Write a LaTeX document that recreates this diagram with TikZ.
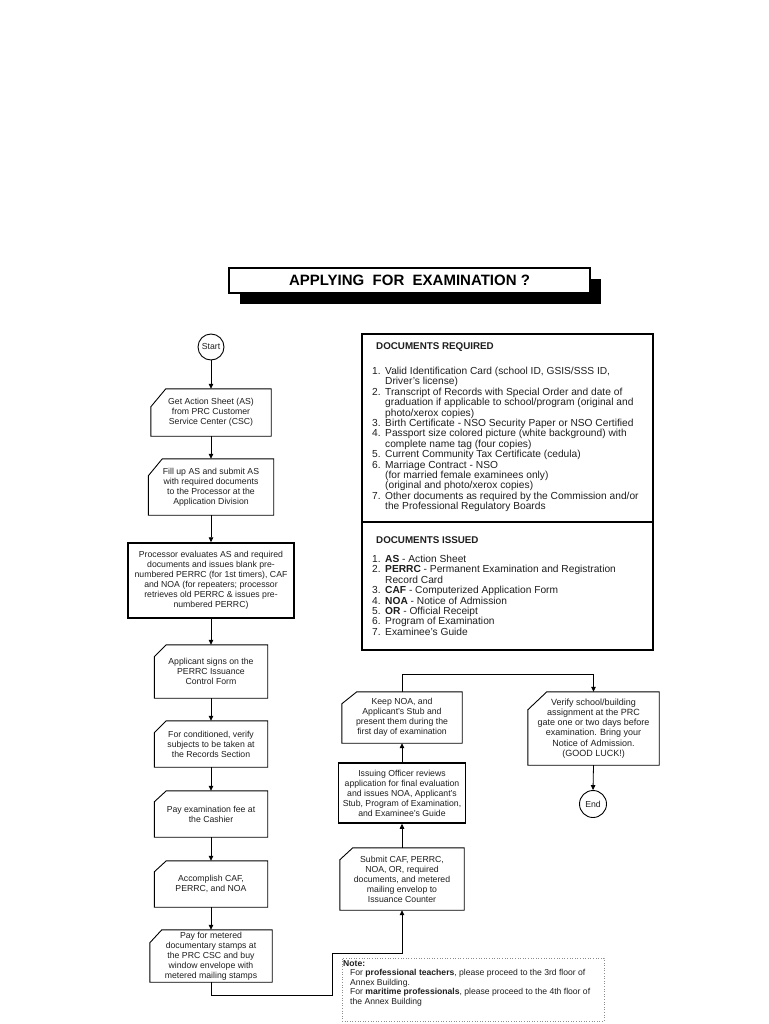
\documentclass[tikz,border=0pt]{standalone}
\usepackage{fontspec}
\setmainfont{Liberation Sans}
\usetikzlibrary{arrows.meta}
\newcommand\flowfont{\fontsize{8.7}{10}\selectfont}
\newcommand\docfont{\fontsize{10.2}{10}\selectfont}
\newcommand\dochead{\fontsize{9.8}{10}\bfseries\selectfont}
\newcommand\notefont{\fontsize{8.6}{9.6}\selectfont}
\newcommand\chamferbox[3]{\draw[boxline] ([xshift=#2pt]#1.north west) -- (#1.north east) -- (#1.south east) -- (#1.south west) -- ([yshift=-#3pt]#1.north west) -- cycle;}
\begin{document}
\begin{tikzpicture}[x=1pt,y=-1pt,
  flowbox/.style={inner sep=0pt, align=center, font=\flowfont, text=black!88},
  boxline/.style={draw=black, line width=0.9pt},
  thickbox/.style={draw=black, line width=1.5pt, inner sep=0pt, align=center, font=\flowfont, text=black!88},
  conn/.style={draw=black, line width=0.8pt, -{Triangle[width=4.5pt,length=5pt]}},
  termnode/.style={circle, draw=black, line width=0.9pt, minimum size=26pt, inner sep=0pt, font=\flowfont, text=black!88},
  docbox/.style={draw=black, line width=1.1pt, inner sep=0pt, minimum width=291pt},
]
\fill[white] (0,0) rectangle (768,1024);
\useasboundingbox (0,0) rectangle (768,1024);

% title with shadow
\fill[black] (240,279) rectangle (601,304);
\node[draw=black, fill=white, line width=1.5pt, inner sep=0pt, minimum width=361pt, minimum height=25pt,
      font=\fontsize{15}{18}\bfseries\selectfont] (title) at (409.5,280.5) {APPLYING\ \ FOR\ \ EXAMINATION ?};

% left column
\node[termnode] (start) at (211,347) {Start};
\node[flowbox, minimum width=120pt, minimum height=47pt] (b1) at (211,412.5) {Get Action Sheet (AS)\\from PRC Customer\\Service Center (CSC)};
\node[flowbox, minimum width=125pt, minimum height=56pt] (b2) at (211,487) {Fill up AS and submit AS\\with required documents\\to the Processor at the\\Application Division};
\node[thickbox, minimum width=166pt, minimum height=75pt] (b3) at (211,580.5) {Processor evaluates AS and required\\documents and issues blank pre-\\numbered PERRC (for 1st timers), CAF\\and NOA (for repeaters; processor\\retrieves old PERRC \& issues pre-\\numbered PERRC)};
\node[flowbox, minimum width=113pt, minimum height=53pt] (b4) at (211,671.5) {Applicant signs on the\\PERRC Issuance\\Control Form};
\node[flowbox, minimum width=113pt, minimum height=46pt] (b5) at (211,744) {For conditioned, verify\\subjects to be taken at\\the Records Section};
\node[flowbox, minimum width=113pt, minimum height=46pt] (b6) at (211,814) {Pay examination fee at\\the Cashier};
\node[flowbox, minimum width=113pt, minimum height=46pt] (b7) at (211,884) {Accomplish CAF,\\PERRC, and NOA};
\node[flowbox, minimum width=122pt, minimum height=52pt] (b8) at (211,956) {Pay for metered\\documentary stamps at\\the PRC CSC and buy\\window envelope with\\metered mailing stamps};

% right flow column
\node[flowbox, minimum width=124pt, minimum height=62pt] (b9) at (402,879) {Submit CAF, PERRC,\\NOA, OR, required\\documents, and metered\\mailing envelop to\\Issuance Counter};
\node[thickbox, minimum width=127pt, minimum height=60pt] (b10) at (402,793) {Issuing Officer reviews\\application for final evaluation\\and issues NOA, Applicant's\\Stub, Program of Examination,\\and Examinee's Guide};
\node[flowbox, minimum width=120pt, minimum height=51pt] (b11) at (402,717.5) {Keep NOA, and\\Applicant's Stub and\\present them during the\\first day of examination};
\node[flowbox, minimum width=131pt, minimum height=73pt, font=\fontsize{9}{10.2}\selectfont] (b12) at (593.5,728.5) {Verify school/building\\assignment at the PRC\\gate one or two days before\\examination. Bring your\\Notice of Admission.\\(GOOD LUCK!)};
\node[termnode, minimum size=27pt] (endn) at (593,804) {End};

% chamfered outlines
\chamferbox{b1}{15}{18}
\chamferbox{b2}{14}{17}
\chamferbox{b4}{12}{12}
\chamferbox{b5}{12}{12}
\chamferbox{b6}{12}{11}
\chamferbox{b7}{12}{11}
\chamferbox{b8}{12}{13}
\chamferbox{b9}{13}{12}
\chamferbox{b11}{15}{12}
\chamferbox{b12}{19}{18}

% documents boxes
\node[docbox, minimum height=188pt] (docreq) at (507.5,428) {};
\node[docbox, minimum height=128pt] (dociss) at (507.5,586) {};
\node[anchor=base west, inner sep=0pt, font=\dochead, text=black!88] (reqhead) at (376,349.5) {DOCUMENTS REQUIRED};
\node[anchor=north west, inner sep=0pt, font=\docfont, text=black!88] (reqlist) at (372,367) {%
\begin{tabular}{@{}p{13pt}@{}l@{}}
1. & Valid Identification Card (school ID, GSIS/SSS ID,\\
   & Driver's license)\\
2. & Transcript of Records with Special Order and date of\\
   & graduation if applicable to school/program (original and\\
   & photo/xerox copies)\\
3. & Birth Certificate - NSO Security Paper or NSO Certified\\
4. & Passport size colored picture (white background) with\\
   & complete name tag (four copies)\\
5. & Current Community Tax Certificate (cedula)\\
6. & Marriage Contract - NSO\\
   & (for married female examinees only)\\
   & (original and photo/xerox copies)\\
7. & Other documents as required by the Commission and/or\\
   & the Professional Regulatory Boards
\end{tabular}};
\node[anchor=base west, inner sep=0pt, font=\dochead, text=black!88] (isshead) at (376,543.5) {DOCUMENTS ISSUED};
\node[anchor=north west, inner sep=0pt, font=\docfont, text=black!88] (isslist) at (372,555) {%
\begin{tabular}{@{}p{13pt}@{}l@{}}
1. & \textbf{AS} - Action Sheet\\
2. & \textbf{PERRC} - Permanent Examination and Registration\\
   & Record Card\\
3. & \textbf{CAF} - Computerized Application Form\\
4. & \textbf{NOA} - Notice of Admission\\
5. & \textbf{OR} - Official Receipt\\
6. & Program of Examination\\
7. & Examinee's Guide
\end{tabular}};

% note
\node[draw=black!45, dotted, line width=0.6pt, inner sep=0pt, minimum width=262pt, minimum height=63pt] (note) at (473,989.5) {};
\node[anchor=north west, inner sep=0pt, align=left, font=\notefont, text=black!88] (notetext) at (343,960) {%
\textbf{Note:}\\
\hspace*{7pt}For \textbf{professional teachers}, please proceed to the 3rd floor of\\
\hspace*{7pt}Annex Building.\\
\hspace*{7pt}For \textbf{maritime professionals}, please proceed to the 4th floor of\\
\hspace*{7pt}the Annex Building};

% connectors left column
\draw[conn] (start.south) -- (b1.north);
\draw[conn] (b1.south) -- (b2.north);
\draw[conn] (b2.south) -- (b3.north);
\draw[conn] (b3.south) -- (b4.north);
\draw[conn] (b4.south) -- (b5.north);
\draw[conn] (b5.south) -- (b6.north);
\draw[conn] (b6.south) -- (b7.north);
\draw[conn] (b7.south) -- (b8.north);

% bottom link to right column
\coordinate (j1) at (211,995);
\coordinate (j2) at (332,995);
\coordinate (j3) at (332,953);
\draw[conn] (b8.south) -- (j1) -- (j2) -- (j3) -- (b9.south |- j3) -- (b9.south);

% right column upward
\draw[conn] (b9.north) -- (b10.south);
\draw[conn] (b10.north) -- (b11.south);
\coordinate (k1) at (402,674);
\draw[conn] (b11.north) -- (k1) -- (b12.north |- k1) -- (b12.north);
\draw[conn] (b12.south) -- (endn.north);
\end{tikzpicture}
\end{document}
